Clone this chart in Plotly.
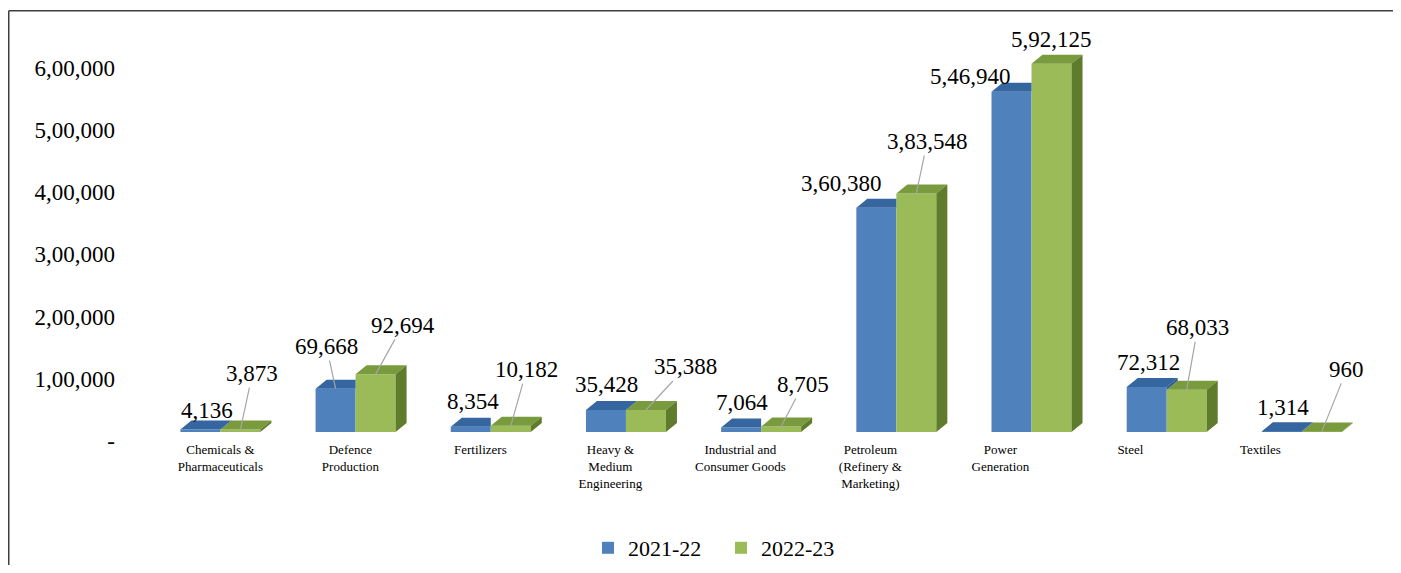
import plotly.graph_objects as go

# categories and values (Indian digit grouping in the labels)
categories = [
    "Chemicals &<br>Pharmaceuticals",
    "Defence<br>Production",
    "Fertilizers",
    "Heavy &<br>Medium<br>Engineering",
    "Industrial and<br>Consumer Goods",
    "Petroleum<br>(Refinery &<br>Marketing)",
    "Power<br>Generation",
    "Steel",
    "Textiles",
]
fy_2021_22 = [4136, 69668, 8354, 35428, 7064, 360380, 546940, 72312, 1314]
fy_2022_23 = [3873, 92694, 10182, 35388, 8705, 383548, 592125, 68033, 960]
series_names = ["2021-22", "2022-23"]

y_tick_vals = [0, 100000, 200000, 300000, 400000, 500000, 600000]
y_tick_text = ["-", "1,00,000", "2,00,000", "3,00,000", "4,00,000", "5,00,000", "6,00,000"]

# label placement (pixel offsets of the text from the bar top, leader line or not)
blue_label_pos = [(7, -19, False), (-9, -42, True), (2, -25, False), (1, -25, False),
                  (1, -25, False), (-35, -24, False), (-41, -15, False), (2, -25, False),
                  (1, -24, False)]
green_label_pos = [(12, -56, True), (27, -49, True), (16, -56, True), (40, -43, True),
                   (22, -42, True), (11, -52, True), (0, -24, False), (11, -62, True),
                   (25, -62, True)]

# colours
BLUE, BLUE_TOP, BLUE_SIDE = "#4F81BD", "#3566A0", "#2E5A8C"
GREEN, GREEN_TOP, GREEN_SIDE = "#9BBB59", "#7A9A3E", "#5F7B2C"
FONT = "Liberation Serif"

# geometry (figure sits inside the page's 8px body margin)
W_PX, H_PX = 1385, 557
L, R, T, B = 111, 10, 17, 124
LABEL_DROP = 9                       # y tick labels sit 9px lower than the bars' scale
X_RANGE = [-0.75, 8.6]
PX_PER_UNIT_Y = 62.2 / 100000
plot_w = W_PX - L - R
plot_h = H_PX - T - B
px_x = plot_w / (X_RANGE[1] - X_RANGE[0])   # pixels per category
Y_MAX = (plot_h - LABEL_DROP) / PX_PER_UNIT_Y
Y_RANGE = [0, Y_MAX]

BAR_W = 40 / px_x          # width of one bar front
DX = 11 / px_x             # 3d depth, horizontal
DY = 9 / PX_PER_UNIT_Y     # 3d depth, vertical
LABEL_PITCH = 130 / px_x   # category labels sit a bit tighter than the bars


def indian(n):
    s = str(n)
    if len(s) <= 3:
        return s
    head, tail = s[:-3], s[-3:]
    parts = []
    while len(head) > 2:
        parts.insert(0, head[-2:])
        head = head[:-2]
    if head:
        parts.insert(0, head)
    return ",".join(parts) + "," + tail


def to_paper_x(p):
    return (p - L) / plot_w


def to_paper_y(p):
    return (H_PX - B - p) / plot_h


idx = list(range(len(categories)))

# side / top faces, built from the values
g_top_x, g_top_y, g_side_x, g_side_y = [], [], [], []
b_top_x, b_top_y, b_side_x, b_side_y = [], [], [], []
for c, v0, v1 in zip(idx, fy_2021_22, fy_2022_23):
    g_top_x += [c, c + BAR_W, c + BAR_W + DX, c + DX, c, None]
    g_top_y += [v1, v1, v1 + DY, v1 + DY, v1, None]
    g_side_x += [c + BAR_W, c + BAR_W, c + BAR_W + DX, c + BAR_W + DX, c + BAR_W, None]
    g_side_y += [0, v1, v1 + DY, DY, 0, None]
    if v1 >= v0:
        b_top_x += [c - BAR_W, c, c, c - BAR_W + DX, c - BAR_W, None]
        b_top_y += [v0, v0, v0 + DY, v0 + DY, v0, None]
    else:
        b_top_x += [c - BAR_W, c, c + DX, c - BAR_W + DX, c - BAR_W, None]
        b_top_y += [v0, v0, v0 + DY, v0 + DY, v0, None]
        b_side_x += [c, c, c + DX, c + DX, c, None]
        b_side_y += [v1, v0, v0 + DY, v1 + DY, v1, None]

fig = go.Figure()

# front faces
fig.add_trace(go.Bar(x=idx, y=fy_2021_22, width=BAR_W, offset=-BAR_W,
                     marker=dict(color=BLUE, line=dict(width=0)), showlegend=False))
fig.add_trace(go.Bar(x=idx, y=fy_2022_23, width=BAR_W, offset=0,
                     marker=dict(color=GREEN, line=dict(width=0)), showlegend=False))

# green faces first, blue after (blue side sits in front of green top)
for xs, ys, col in [(g_top_x, g_top_y, GREEN_TOP), (g_side_x, g_side_y, GREEN_SIDE),
                    (b_top_x, b_top_y, BLUE_TOP), (b_side_x, b_side_y, BLUE_SIDE)]:
    if xs:
        fig.add_trace(go.Scatter(x=xs, y=ys, mode="lines", fill="toself", fillcolor=col,
                                 line=dict(width=0, color=col), hoverinfo="skip",
                                 showlegend=False))

# legend entries
for name, col in zip(series_names, [BLUE, GREEN]):
    fig.add_trace(go.Scatter(x=[None], y=[None], mode="markers", name=name,
                             marker=dict(symbol="square", size=12, color=col)))

# dummy trace so the tick-label axis (y2) is drawn
fig.add_trace(go.Scatter(x=[None], y=[None], yaxis="y2", showlegend=False, hoverinfo="skip"))

# data labels
label_font = dict(family=FONT, size=23, color="black")
for c, v, (ox, oy, line) in zip(idx, fy_2021_22, blue_label_pos):
    fig.add_annotation(x=c - BAR_W / 2, y=v, text=indian(v), font=label_font,
                       showarrow=True, ax=ox, ay=oy, arrowhead=0, arrowwidth=1.2,
                       arrowcolor="#A6A6A6" if line else "rgba(0,0,0,0)", standoff=0)
for c, v, (ox, oy, line) in zip(idx, fy_2022_23, green_label_pos):
    fig.add_annotation(x=c + BAR_W / 2, y=v, text=indian(v), font=label_font,
                       showarrow=True, ax=ox, ay=oy, arrowhead=0, arrowwidth=1.2,
                       arrowcolor="#A6A6A6" if line else "rgba(0,0,0,0)", standoff=0)

# outer border of the chart: only the top and left edges fall inside the page
border = dict(color="#3F3F3F", width=1.5)
fig.add_shape(type="line", xref="paper", yref="paper",
              x0=to_paper_x(0.75), x1=to_paper_x(W_PX + 20),
              y0=to_paper_y(2.75), y1=to_paper_y(2.75), line=border)
fig.add_shape(type="line", xref="paper", yref="paper",
              x0=to_paper_x(0.75), x1=to_paper_x(0.75),
              y0=to_paper_y(2.75), y1=to_paper_y(H_PX + 20), line=border)

fig.update_layout(
    width=W_PX, height=H_PX,
    margin=dict(l=L, r=R, t=T, b=B, autoexpand=False),
    paper_bgcolor="white", plot_bgcolor="rgba(0,0,0,0)",
    barmode="overlay",
    font=dict(family=FONT, color="black"),
    xaxis=dict(range=X_RANGE, tickmode="array",
               tickvals=[i * LABEL_PITCH for i in idx], ticktext=categories,
               tickfont=dict(family=FONT, size=13), showgrid=False, zeroline=False,
               showline=False, ticks="", ticklabelstandoff=8, automargin=False),
    yaxis=dict(range=Y_RANGE, domain=[LABEL_DROP / plot_h, 1], showticklabels=False,
               showgrid=False, zeroline=False, showline=False, ticks=""),
    yaxis2=dict(range=Y_RANGE, domain=[0, 1 - LABEL_DROP / plot_h], anchor="x",
                side="left", tickmode="array",
                tickvals=y_tick_vals, ticktext=y_tick_text,
                tickfont=dict(family=FONT, size=23), automargin=False,
                showgrid=False, zeroline=False, showline=False, ticks="",
                ticklabelstandoff=3),
    legend=dict(orientation="h", x=to_paper_x(580), y=to_paper_y(540),
                xanchor="left", yanchor="middle", font=dict(family=FONT, size=22),
                itemwidth=30, tracegroupgap=0,
                entrywidth=88, entrywidthmode="pixels"),
)

fig.write_html("out.html")
